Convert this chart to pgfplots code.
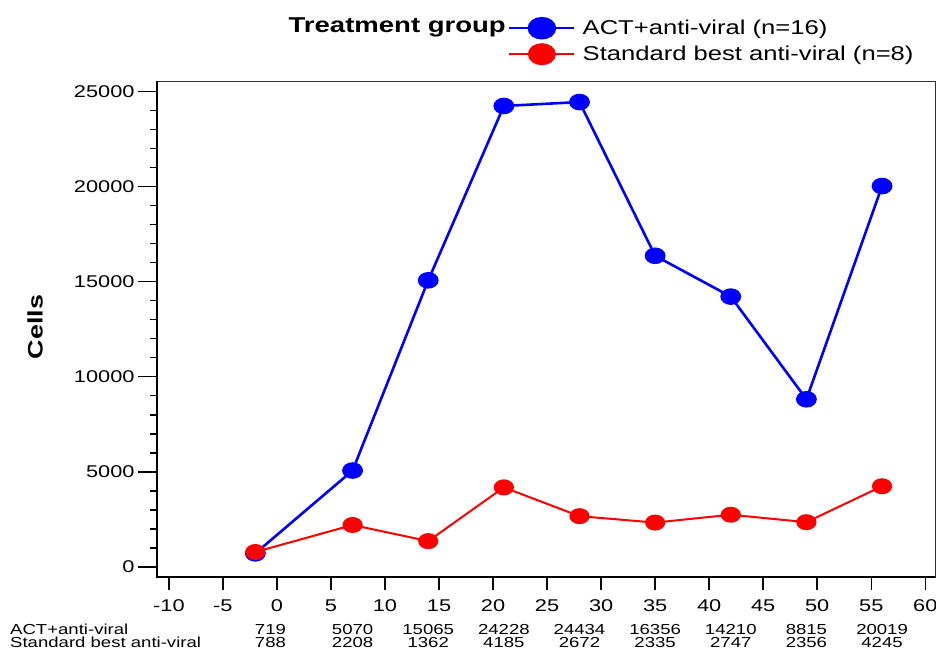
\documentclass[border=0pt]{standalone}
\usepackage{fontspec}
\setmainfont{Liberation Sans}[FakeStretch=1.28]
\usepackage{pgfplots}
\pgfplotsset{compat=1.18}
\usepackage{pgfplotstable}
\definecolor{actblue}{RGB}{0,0,255}
\definecolor{sbred}{RGB}{255,0,0}

% day, ACT+anti-viral, standard best anti-viral
\pgfplotstableread{
day act sbav
-2 719 788
7 5070 2208
14 15065 1362
21 24228 4185
28 24434 2672
35 16356 2335
42 14210 2747
49 8815 2356
56 20019 4245
}\cells

\begin{document}
\begin{tikzpicture}
\useasboundingbox (0,0) rectangle (936pt,650pt);
\begin{axis}[
  at={(157pt,73pt)}, anchor=south west,
  scale only axis, width=778pt, height=496pt,
  xmin=-11.1, xmax=60.9, ymin=-525, ymax=25541,
  xtick={-10,-5,...,60}, ytick={0,5000,...,25000},
  minor y tick num=4,
  tick align=outside, xtick pos=bottom, ytick pos=left,
  major tick length=19pt, minor tick length=7pt,
  xtick style={/pgfplots/major tick length=13pt},
  tick style={black, line width=1.5pt},
  axis line style={black!80, line width=0.8pt},
  clip=false,
  scaled ticks=false,
  /pgf/number format/assume math mode=true,
  /pgf/number format/set thousands separator={},
  ticklabel style={font=\fontsize{17}{19}\selectfont, text=black},
  legend style={at={(0.451,1.127)}, anchor=north west, draw=none, fill=none,
    inner sep=0pt, row sep=6pt, column sep=5pt,
    font=\fontsize{20}{22}\selectfont},
  legend cell align=left,
  legend image code/.code={
    \draw[#1] (0pt,0pt) -- (65pt,0pt);
    \draw[#1, mark size=10pt] plot coordinates {(32.5pt,0pt)};
  },
]
\addplot[actblue, line width=2.6pt, mark=*, mark size=7pt,
  mark options={xscale=1.3, solid}] table[x=day, y=act] {\cells};
\addlegendentry{ACT+anti-viral (n=16)}
\addplot[sbred, line width=2pt, mark=*, mark size=7pt,
  mark options={xscale=1.3, solid}] table[x=day, y=sbav] {\cells};
\addlegendentry{Standard best anti-viral (n=8)}

\draw[black, line width=2pt] (rel axis cs:0,1) -- (rel axis cs:0,0) -- (rel axis cs:1,0);

% values table under the axis
\tikzset{tabnum/.style={font=\fontsize{14.5}{15}\selectfont, anchor=center, inner sep=0pt}}
\node[tabnum] at (axis cs:-0.6,-3260) {719};
\node[tabnum] at (axis cs:7,-3260) {5070};
\node[tabnum] at (axis cs:14,-3260) {15065};
\node[tabnum] at (axis cs:21,-3260) {24228};
\node[tabnum] at (axis cs:28,-3260) {24434};
\node[tabnum] at (axis cs:35,-3260) {16356};
\node[tabnum] at (axis cs:42,-3260) {14210};
\node[tabnum] at (axis cs:49,-3260) {8815};
\node[tabnum] at (axis cs:56,-3260) {20019};
\node[tabnum] at (axis cs:-0.6,-3950) {788};
\node[tabnum] at (axis cs:7,-3950) {2208};
\node[tabnum] at (axis cs:14,-3950) {1362};
\node[tabnum] at (axis cs:21,-3950) {4185};
\node[tabnum] at (axis cs:28,-3950) {2672};
\node[tabnum] at (axis cs:35,-3950) {2335};
\node[tabnum] at (axis cs:42,-3950) {2747};
\node[tabnum] at (axis cs:49,-3950) {2356};
\node[tabnum] at (axis cs:56,-3950) {4245};
\end{axis}

\node[anchor=base east, inner sep=0pt, font=\bfseries\fontsize{21.5}{24}\selectfont] at (506pt,617pt) {Treatment group};
\node[rotate=90, inner sep=0pt, font=\bfseries\fontsize{21}{24}\selectfont] at (35pt,323pt) {Cells};
\node[anchor=west, inner sep=0pt, font=\fontsize{14.5}{15}\selectfont] at (10pt,21pt) {ACT+anti-viral};
\node[anchor=west, inner sep=0pt, font=\fontsize{14.5}{15}\selectfont] at (10pt,8pt) {Standard best anti-viral};
\end{tikzpicture}
\end{document}
